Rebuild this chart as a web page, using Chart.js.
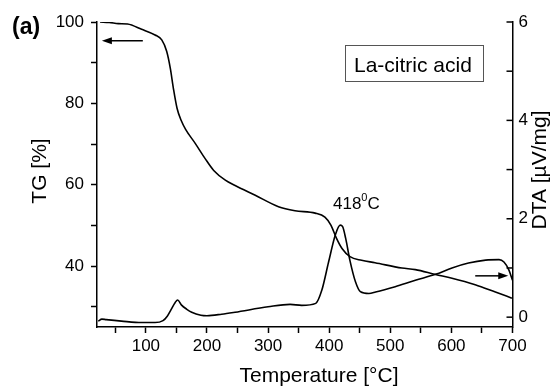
<!DOCTYPE html>
<html>
<head>
<meta charset="utf-8">
<script src="https://cdn.jsdelivr.net/npm/chart.js@4/dist/chart.umd.min.js"></script>
<style>
    body { margin: 0; background: #fff; }
    #wrap { width: 560px; height: 386px; position: relative; }
</style>
</head>
<body>
<div id="wrap"><canvas id="tgChart"></canvas></div>
<script>
// TG curve (left axis), temperature in °C and mass in %
const tgTemp = [25, 40, 55, 70, 93, 115, 126, 134, 140, 145, 151, 158, 165, 181, 197, 211, 230, 246, 279, 317, 344, 377, 393, 403, 412, 421, 434, 453, 475, 519, 541, 574, 601, 639, 672, 699];
const tgMass = [100.0, 99.9, 99.6, 99.5, 98.2, 96.8, 95.6, 92.8, 88.6, 83.7, 78.8, 75.7, 73.6, 70.1, 66.4, 63.5, 61.1, 59.8, 57.4, 54.6, 53.6, 53.0, 52.0, 50.0, 46.8, 44.3, 42.3, 41.4, 40.8, 39.5, 39.1, 37.9, 37.0, 35.4, 33.6, 32.1];

// DTA curve (right axis), µV/mg
const dtaTemp = [22, 28, 35, 60, 93, 115, 128, 135, 141, 148, 152, 158, 167, 175, 190, 200, 224, 246, 300, 336, 355, 378, 388, 399, 410, 418, 422, 427, 434, 443, 451, 465, 476, 508, 541, 574, 601, 628, 656, 678, 686, 694, 700];
const dtaSignal = [-0.08, -0.04, -0.05, -0.08, -0.11, -0.11, -0.07, 0.02, 0.15, 0.30, 0.35, 0.25, 0.16, 0.10, 0.04, 0.03, 0.06, 0.10, 0.21, 0.26, 0.24, 0.28, 0.55, 1.12, 1.67, 1.87, 1.84, 1.60, 1.15, 0.72, 0.52, 0.48, 0.51, 0.62, 0.75, 0.87, 1.00, 1.10, 1.16, 1.17, 1.12, 0.96, 0.75];

// tick values (labels only on the major ones)
const xTicks = [50, 100, 150, 200, 250, 300, 350, 400, 450, 500, 550, 600, 650, 700];
const xLabels = [100, 200, 300, 400, 500, 600, 700];
const tgTicks = [30, 40, 50, 60, 70, 80, 90, 100];
const tgLabels = [40, 60, 80, 100];
const dtaTicks = [0, 1, 2, 3, 4, 5, 6];
const dtaLabels = [0, 2, 4, 6];

// arrows pointing to the axis of each curve: [fromX, toX, y]
const tgArrow = [95, 28, 95.4];
const dtaArrow = [639, 693, 0.84];

const FONT = '"Liberation Sans", Arial, sans-serif';
Chart.defaults.font.family = FONT;
Chart.defaults.color = '#000';

function toPoints(xs, ys) {
    return xs.map((x, i) => ({ x: x, y: ys[i] }));
}

function fixTicks(values) {
    return scale => { scale.ticks = values.map(v => ({ value: v })); };
}

function labelOnly(values) {
    return v => values.includes(v) ? String(v) : '';
}

// Draw an arrow with a filled head
function drawArrow(ctx, x1, x2, y) {
    const dir = Math.sign(x2 - x1);
    ctx.beginPath();
    ctx.moveTo(x1, y);
    ctx.lineTo(x2 - dir * 8, y);
    ctx.stroke();
    ctx.beginPath();
    ctx.moveTo(x2, y);
    ctx.lineTo(x2 - dir * 10, y - 3.5);
    ctx.lineTo(x2 - dir * 10, y + 3.5);
    ctx.closePath();
    ctx.fill();
}

// Extras: inward ticks on the DTA axis, arrows, axis titles and labels
const extrasPlugin = {
    id: 'extras',
    afterDraw(chart) {
        const ctx = chart.ctx;
        const xs = chart.scales.x;
        const yL = chart.scales.y;
        const yR = chart.scales.y2;
        const area = chart.chartArea;
        ctx.save();
        ctx.strokeStyle = '#000';
        ctx.fillStyle = '#000';
        ctx.lineWidth = 1.5;

        // inward ticks on the right axis
        dtaTicks.forEach(v => {
            const py = yR.getPixelForValue(v);
            ctx.beginPath();
            ctx.moveTo(area.right - 6, py);
            ctx.lineTo(area.right, py);
            ctx.stroke();
        });

        // arrows
        drawArrow(ctx, xs.getPixelForValue(tgArrow[0]), xs.getPixelForValue(tgArrow[1]), yL.getPixelForValue(tgArrow[2]));
        drawArrow(ctx, xs.getPixelForValue(dtaArrow[0]), xs.getPixelForValue(dtaArrow[1]), yR.getPixelForValue(dtaArrow[2]));

        // axis titles
        ctx.textBaseline = 'alphabetic';
        ctx.textAlign = 'center';
        ctx.font = '21px ' + FONT;
        ctx.fillText('Temperature [°C]', 319, 382);

        ctx.save();
        ctx.translate(46, 171);
        ctx.rotate(-Math.PI / 2);
        ctx.fillText('TG [%]', 0, 0);
        ctx.restore();

        ctx.save();
        ctx.translate(546, 170);
        ctx.rotate(-Math.PI / 2);
        ctx.fillText('DTA [µV/mg]', 0, 0);
        ctx.restore();

        // panel letter
        ctx.textAlign = 'left';
        ctx.font = 'bold 23px ' + FONT;
        ctx.fillText('(a)', 12, 34);

        // sample box
        ctx.lineWidth = 1;
        ctx.strokeStyle = '#555';
        ctx.strokeRect(345.5, 45.5, 138, 36);
        ctx.font = '21px ' + FONT;
        ctx.fillText('La-citric acid', 354, 72);

        // peak label 418⁰C
        ctx.font = '17px ' + FONT;
        ctx.fillText('418', 333, 209);
        let w = ctx.measureText('418').width;
        ctx.font = '11px ' + FONT;
        ctx.fillText('0', 333 + w, 201);
        w += ctx.measureText('0').width;
        ctx.font = '17px ' + FONT;
        ctx.fillText('C', 333 + w, 209);

        ctx.restore();
    }
};

const ctx = document.getElementById('tgChart').getContext('2d');
const chart = new Chart(ctx, {
    type: 'scatter',
    data: {
        datasets: [{
            label: 'TG',
            data: toPoints(tgTemp, tgMass),
            yAxisID: 'y',
            showLine: true,
            borderColor: '#000',
            borderWidth: 1.6,
            pointRadius: 0,
            cubicInterpolationMode: 'monotone'
        }, {
            label: 'DTA',
            data: toPoints(dtaTemp, dtaSignal),
            yAxisID: 'y2',
            showLine: true,
            borderColor: '#000',
            borderWidth: 1.6,
            pointRadius: 0,
            cubicInterpolationMode: 'monotone'
        }]
    },
    options: {
        responsive: true,
        maintainAspectRatio: false,
        animation: false,
        layout: { padding: { left: 0, right: 0, top: 22, bottom: 0 } },
        plugins: {
            legend: { display: false },
            tooltip: { enabled: false }
        },
        scales: {
            x: {
                type: 'linear',
                position: 'bottom',
                min: 20,
                max: 700,
                afterBuildTicks: fixTicks(xTicks),
                afterFit: s => { s.height = 59; },
                ticks: {
                    callback: labelOnly(xLabels),
                    font: { size: 17 },
                    color: '#000',
                    maxRotation: 0,
                    autoSkip: false,
                    padding: 3
                },
                grid: { drawOnChartArea: false, tickLength: 6, tickColor: '#000', tickWidth: 1.5 },
                border: { display: true, color: '#000', width: 1.5 }
            },
            y: {
                type: 'linear',
                position: 'left',
                min: 25,
                max: 100,
                afterBuildTicks: fixTicks(tgTicks),
                afterFit: s => { s.width = 97; },
                ticks: {
                    callback: labelOnly(tgLabels),
                    font: { size: 17 },
                    color: '#000',
                    autoSkip: false,
                    padding: 7
                },
                grid: { drawOnChartArea: false, tickLength: 6, tickColor: '#000', tickWidth: 1.5 },
                border: { display: true, color: '#000', width: 1.5 }
            },
            y2: {
                type: 'linear',
                position: 'right',
                min: -0.2,
                max: 6,
                afterBuildTicks: fixTicks(dtaTicks),
                afterFit: s => { s.width = 47.5; },
                ticks: {
                    callback: labelOnly(dtaLabels),
                    font: { size: 17 },
                    color: '#000',
                    autoSkip: false,
                    padding: 6
                },
                grid: { drawOnChartArea: false, drawTicks: false },
                border: { display: true, color: '#000', width: 1.5 }
            }
        }
    },
    plugins: [extrasPlugin]
});
</script>
</body>
</html>
